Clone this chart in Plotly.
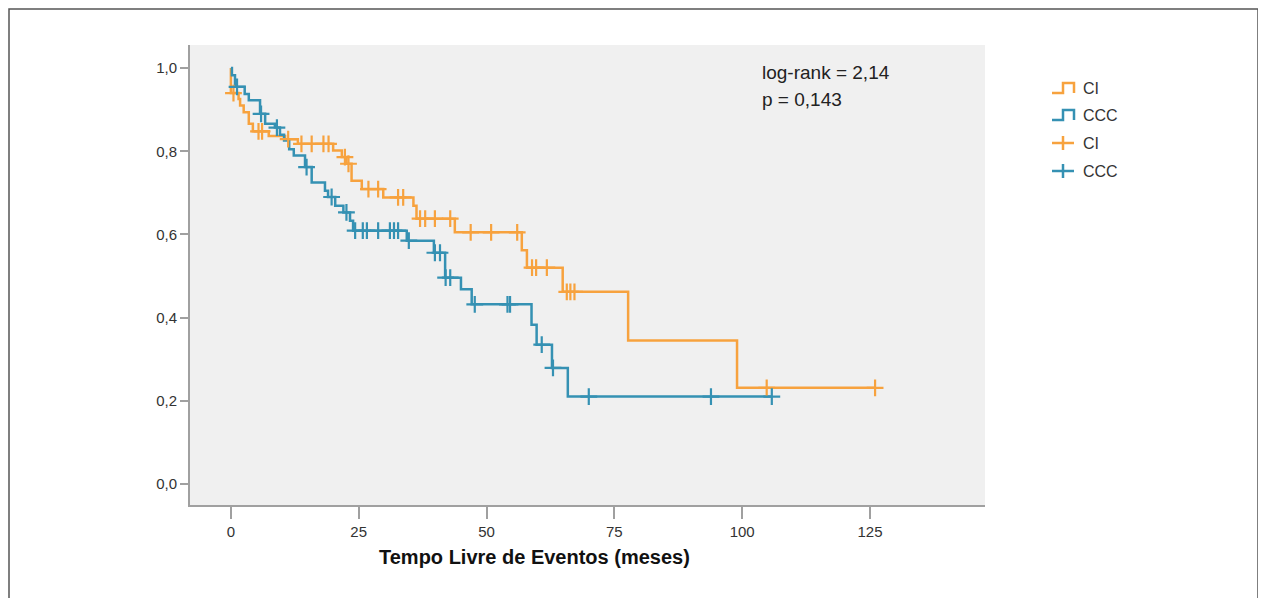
import numpy as np
import plotly.graph_objects as go

# ---------------- data ----------------
ci_event_times = [0, 1.5, 1.8, 2.5, 3.5, 4.3, 7.4, 10.6, 13.1, 20.0, 21.7, 22.6, 23.6,
                  25.6, 29.8, 35.7, 36.3, 43.8, 56.9, 57.9, 64.9, 77.7, 99.0]
ci_surv = [0.94, 0.926, 0.91, 0.894, 0.866, 0.848, 0.837, 0.829, 0.818, 0.802, 0.786,
           0.77, 0.729, 0.709, 0.689, 0.669, 0.638, 0.605, 0.562, 0.52, 0.462, 0.345, 0.231]
ci_censor_times = [0.5, 5.4, 6.1, 11.2, 13.8, 15.8, 18.1, 19.1, 22.3, 23.0, 26.9, 28.8,
                   32.7, 33.7, 37.0, 38.0, 39.9, 42.9, 46.9, 50.9, 56.0, 58.9, 59.7, 61.8,
                   65.7, 66.4, 67.2, 104.8, 126.0]

ccc_event_times = [0.2, 0.8, 2.7, 3.5, 5.7, 6.7, 8.6, 9.6, 10.4, 11.4, 12.3, 14.5, 15.8,
                   18.4, 19.0, 20.4, 22.0, 23.3, 23.9, 34.4, 39.7, 41.9, 45.0, 47.1, 58.8,
                   59.8, 62.8, 65.9]
ccc_surv = [0.983, 0.955, 0.938, 0.923, 0.89, 0.866, 0.857, 0.84, 0.826, 0.805, 0.79,
            0.762, 0.725, 0.705, 0.69, 0.669, 0.653, 0.633, 0.609, 0.585, 0.556, 0.496,
            0.468, 0.432, 0.383, 0.335, 0.279, 0.21]
ccc_censor_times = [1.2, 5.9, 9.0, 14.8, 19.7, 22.6, 24.3, 25.8, 26.6, 28.8, 31.1, 31.9,
                    32.7, 34.8, 39.9, 40.9, 42.0, 42.9, 47.7, 54.1, 54.6, 60.8, 63.0, 70.0,
                    93.9, 105.8]

x_ticks = [0, 25, 50, 75, 100, 125]
y_ticks = [0.0, 0.2, 0.4, 0.6, 0.8, 1.0]
group_names = ["CI", "CCC"]
colors = ["#F7A23E", "#3591B3"]
stat_lines = ["log-rank = 2,14", "p = 0,143"]
x_title = "Tempo Livre de Eventos (meses)"


def step_curve(times, surv, end_time):
    xs = [0.0] + list(times) + [end_time]
    ys = [1.0] + list(surv) + [surv[-1]]
    return xs, ys


def censor_y(times, surv, ctimes):
    t = np.asarray(times)
    s = np.asarray(surv)
    out = []
    for c in ctimes:
        idx = np.searchsorted(t, c, side="right") - 1
        out.append(1.0 if idx < 0 else float(s[idx]))
    return out


FONT = "Liberation Sans, Arial, sans-serif"

# layout geometry (page pixels; the page body adds an 8px offset)
PL, PT, PW, PH = 190, 45, 795, 460   # plot area on the page


def px(xp):
    return (xp - PL) / PW


def py(yp):
    return (PT + PH - yp) / PH


fig = go.Figure()
groups = [
    (ci_event_times, ci_surv, ci_censor_times),
    (ccc_event_times, ccc_surv, ccc_censor_times),
]
for (et, sv, ct), name, col in zip(groups, group_names, colors):
    xs, ys = step_curve(et, sv, max(ct))
    fig.add_trace(go.Scatter(x=xs, y=ys, mode="lines", line=dict(color=col, width=2.5, shape="hv"),
                             name=name, showlegend=False))
for (et, sv, ct), name, col in zip(groups, group_names, colors):
    fig.add_trace(go.Scatter(x=ct, y=censor_y(et, sv, ct), mode="markers", name=name,
                             showlegend=False,
                             marker=dict(symbol="cross-thin-open", size=12, color=col,
                                         line=dict(color=col, width=2.2))))

shapes = [dict(type="rect", xref="paper", yref="paper",
               x0=px(9), x1=px(1258), y0=py(610), y1=py(9),
               line=dict(color="#555555", width=1.5), fillcolor="rgba(0,0,0,0)", layer="below")]
annotations = []

# custom legend: step icons for curves, "+" for censored marks
leg_rows = [88, 115, 143, 171]
for i, (name, col) in enumerate(zip(group_names, colors)):
    yc = leg_rows[i]
    path = "M {a},{b} L {c},{b} L {c},{d} L {e},{d} L {e},{b}".format(
        a=px(1052), b=py(yc + 5), c=px(1063), d=py(yc - 5), e=px(1074))
    shapes.append(dict(type="path", xref="paper", yref="paper", path=path,
                       line=dict(color=col, width=2.5)))
    annotations.append(dict(text=name, xref="paper", yref="paper", x=px(1081), y=py(yc),
                            xanchor="left", yanchor="middle", showarrow=False,
                            font=dict(family=FONT, size=16, color="#333333")))
for i, (name, col) in enumerate(zip(group_names, colors)):
    yc = leg_rows[2 + i]
    shapes.append(dict(type="line", xref="paper", yref="paper", x0=px(1052), x1=px(1074),
                       y0=py(yc), y1=py(yc), line=dict(color=col, width=2.5)))
    shapes.append(dict(type="line", xref="paper", yref="paper", x0=px(1063), x1=px(1063),
                       y0=py(yc - 7), y1=py(yc + 7), line=dict(color=col, width=2.5)))
    annotations.append(dict(text=name, xref="paper", yref="paper", x=px(1081), y=py(yc),
                            xanchor="left", yanchor="middle", showarrow=False,
                            font=dict(family=FONT, size=16, color="#333333")))

for line_text, yc in zip(stat_lines, [72, 100]):
    annotations.append(dict(text=line_text, xref="x", yref="paper", x=103.5, y=py(yc),
                            xanchor="left", yanchor="middle", showarrow=False,
                            font=dict(family=FONT, size=19, color="#222222")))
annotations.append(dict(text="<b>" + x_title + "</b>", xref="x", yref="paper", x=59.3, y=py(557),
                        xanchor="center", yanchor="middle", showarrow=False,
                        font=dict(family=FONT, size=20, color="#111111")))

fig.update_layout(
    width=1258, height=590,
    margin=dict(l=PL - 8, r=1266 - PL - PW, t=PT - 8, b=598 - PT - PH),
    paper_bgcolor="white",
    plot_bgcolor="#F0F0F0",
    separators=",.",
    font=dict(family=FONT, size=15, color="#333333"),
    showlegend=False,
    xaxis=dict(range=[-8, 147.5], tickvals=x_ticks, showgrid=False, zeroline=False,
               showline=True, linecolor="#A0A0A0", linewidth=2,
               ticks="outside", ticklen=12, tickwidth=2, tickcolor="#A0A0A0",
               tickfont=dict(family=FONT, size=15, color="#333333")),
    yaxis=dict(range=[-0.0507, 1.0556], tickvals=y_ticks, tickformat=".1f",
               showgrid=False, zeroline=False,
               showline=True, linecolor="#A0A0A0", linewidth=2,
               ticks="outside", ticklen=8, tickwidth=2, tickcolor="#A0A0A0",
               tickfont=dict(family=FONT, size=15, color="#333333")),
    shapes=shapes,
    annotations=annotations,
)

fig.write_html("out.html")
